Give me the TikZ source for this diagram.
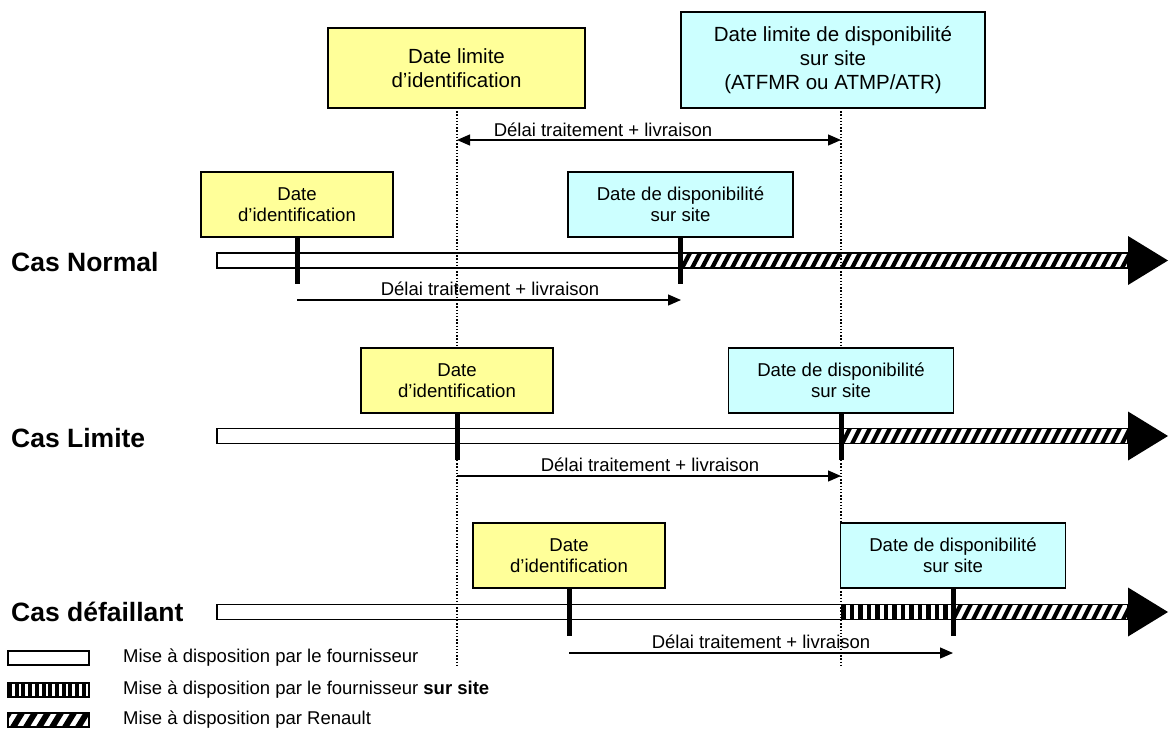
\documentclass[tikz,border=0pt]{standalone}
\usepackage{fontspec}
\setmainfont{Liberation Sans}
\usetikzlibrary{arrows.meta}
\definecolor{boxyellow}{HTML}{FFFF99}
\definecolor{boxcyan}{HTML}{CCFFFF}
\begin{document}
\begin{tikzpicture}[x=1pt,y=-1pt,
  box/.style={draw=black,line width=1.6pt,inner sep=0pt,align=center,
    font=\fontsize{18.6}{21}\selectfont},
  bigbox/.style={box,font=\fontsize{20.5}{24}\selectfont},
  ybox/.style={box,fill=boxyellow,minimum width=192pt,minimum height=65pt},
  cbox/.style={box,fill=boxcyan,minimum width=225pt,minimum height=65pt},
  tick/.style={line width=5pt},
  dots/.style={line width=1.3pt,dash pattern=on 1.4pt off 1.8pt},
  arr/.style={line width=1.2pt,-{Triangle[length=13pt,width=11pt]}},
  darr/.style={line width=1.2pt,{Triangle[length=13pt,width=11pt]}-{Triangle[length=13pt,width=11pt]}},
  lab/.style={font=\fontsize{18.5}{21}\selectfont,inner sep=0pt},
  cas/.style={font=\fontsize{26.5}{30}\selectfont\bfseries,anchor=west,inner sep=0pt},
  leg/.style={font=\fontsize{18.5}{21}\selectfont,anchor=west,inner sep=0pt},
  barline/.style={line width=1.6pt},
]
\useasboundingbox (0,0) rectangle (1169,731);

% ---- bars ----
% row 1
\fill[white] (217,253) rectangle (1128,268);
\begin{scope}
  \clip (682,253) rectangle (1128,268);
  \foreach \x in {672,682,...,1132} \draw[line width=4.2pt] (\x-1,270) -- (\x+9,251);
\end{scope}
\draw[barline] (217,253) rectangle (1128,268);
\fill (1128,236) -- (1168,260.5) -- (1128,285) -- cycle;
% row 2
\fill[white] (217,428.5) rectangle (1128,443.5);
\begin{scope}
  \clip (842,428.5) rectangle (1128,443.5);
  \foreach \x in {832,842,...,1132} \draw[line width=4.2pt] (\x-1,446) -- (\x+9,426);
\end{scope}
\draw[barline] (217,428.5) rectangle (1128,443.5);
\fill (1128,411.5) -- (1168,436) -- (1128,460.5) -- cycle;
% row 3
\fill[white] (217,604.5) rectangle (1128,619.5);
\begin{scope}
  \clip (841,604.5) rectangle (953,619.5);
  \foreach \x in {843.5,852,...,953} \draw[line width=4.5pt] (\x,603) -- (\x,621);
\end{scope}
\begin{scope}
  \clip (953,604.5) rectangle (1128,619.5);
  \foreach \x in {943,953,...,1132} \draw[line width=4.2pt] (\x-1,622) -- (\x+9,602);
\end{scope}
\draw[barline] (217,604.5) rectangle (1128,619.5);
\fill (1128,587.5) -- (1168,612) -- (1128,636.5) -- cycle;

% dotted guide lines (behind the boxes)
\coordinate (d1t) at (457,108);
\coordinate (d2t) at (841,108);
\coordinate (d1) at (457,666);
\coordinate (d2) at (841,666);
\draw[dots] (d1t) -- (d1);
\draw[dots] (d2t) -- (d2);

% top boxes
\node[bigbox,fill=boxyellow,minimum width=257pt,minimum height=80pt] (ty) at (456.5,68) {Date limite\\d’identification};
\node[bigbox,fill=boxcyan,minimum width=304pt,minimum height=96pt] (tc) at (833,60) {Date limite de disponibilité\\sur site\\(ATFMR ou ATMP/ATR)};

% row boxes
\node[ybox] (y1) at (297,204.5) {Date\\d’identification};
\node[cbox] (c1) at (680.5,204.5) {Date de disponibilité\\sur site};
\node[ybox] (y2) at (457,380.5) {Date\\d’identification};
\node[cbox] (c2) at (841,380.5) {Date de disponibilité\\sur site};
\node[ybox] (y3) at (569,555.5) {Date\\d’identification};
\node[cbox] (c3) at (953,555.5) {Date de disponibilité\\sur site};

% Cas labels
\node[cas] (n1) at (11,262) {Cas Normal};
\node[cas] (n2) at (11,438) {Cas Limite};
\node[cas] (n3) at (11,612) {Cas défaillant};

% ticks
\coordinate (k1a) at (297,284);  \draw[tick] (y1.south) -- (k1a);
\coordinate (k1b) at (680.5,284); \draw[tick] (c1.south) -- (k1b);
\coordinate (k2a) at (457,460);  \draw[tick] (y2.south) -- (k2a);
\coordinate (k2b) at (841,460);  \draw[tick] (c2.south) -- (k2b);
\coordinate (k3a) at (569,636);  \draw[tick] (y3.south) -- (k3a);
\coordinate (k3b) at (953,636);  \draw[tick] (c3.south) -- (k3b);

% delay arrows
\coordinate (a0s) at (457,140); \coordinate (a0e) at (841,140);
\draw[darr] (a0s) -- (a0e);
\node[lab,anchor=base] (l0) at (603,136) {Délai traitement + livraison};
\coordinate (a1s) at (297,300); \coordinate (a1e) at (681,300);
\draw[arr] (a1s) -- (a1e);
\node[lab,anchor=base] (l1) at (490,295) {Délai traitement + livraison};
\coordinate (a2s) at (457,476); \coordinate (a2e) at (841,476);
\draw[arr] (a2s) -- (a2e);
\node[lab,anchor=base] (l2) at (650,471) {Délai traitement + livraison};
\coordinate (a3s) at (569,653); \coordinate (a3e) at (953,653);
\draw[arr] (a3s) -- (a3e);
\node[lab,anchor=base] (l3) at (761,648) {Délai traitement + livraison};

% legend
\draw[barline,fill=white] (8,651) rectangle (89,665);
\begin{scope}
  \clip (8,683) rectangle (89,697);
  \foreach \x in {10,16.7,...,90} \draw[line width=4pt] (\x,681) -- (\x,699);
\end{scope}
\draw[barline] (8,683) rectangle (89,697);
\begin{scope}
  \clip (8,713) rectangle (89,727);
  \foreach \x in {0,13,...,95} \draw[line width=6pt] (\x-1,729) -- (\x+10,711);
\end{scope}
\draw[barline] (8,713) rectangle (89,727);
\node[leg] (g1) at (123,658) {Mise à disposition par le fournisseur};
\node[leg] (g2) at (123,690) {Mise à disposition par le fournisseur \textbf{sur site}};
\node[leg] (g3) at (123,720) {Mise à disposition par Renault};
\end{tikzpicture}
\end{document}
